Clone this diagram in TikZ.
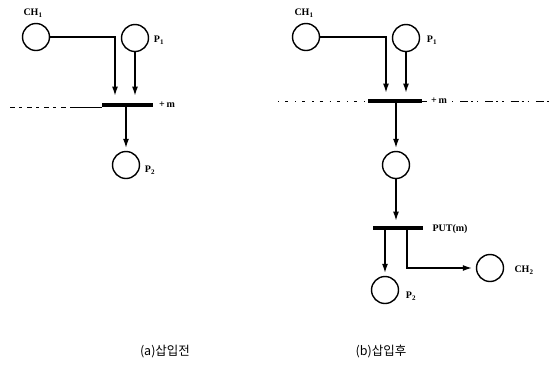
\documentclass[tikz,border=0pt]{standalone}
\usepackage{fontspec}
\setmainfont{Liberation Serif}
\newfontfamily\kr{Noto Sans CJK KR}
\usetikzlibrary{arrows.meta,calc}
\tikzset{
  place/.style={circle,draw,line width=1.4pt,minimum size=27pt,inner sep=0pt},
  trans/.style={rectangle,fill=black,minimum width=#1,minimum height=4.5pt,inner sep=0pt},
  arc/.style={line width=1.2pt,-{Latex[length=9pt,width=6pt]}},
  lbl/.style={font=\bfseries\fontsize{10}{11}\selectfont,inner sep=0pt},
  captxt/.style={font=\kr\fontsize{12.5}{14}\selectfont,inner sep=0pt},
  axis/.style={line width=0.9pt}
}
\begin{document}
\begin{tikzpicture}[x=1pt,y=-1pt]
\useasboundingbox (0,0) rectangle (549,376);
% ---------- (a) ----------
\node[place] (ch1a) at (36,37) {};
\node[place] (p1a) at (135,38) {};
\node[trans=51pt] (bara) at (127.5,105) {};
\node[place] (p2a) at (126,165) {};
\node[lbl] at (33,13) {CH$_{\mathbf 1}$};
\node[lbl] at (159,40) {P$_{\mathbf 1}$};
\node[lbl] at (167,105) {+\,m};
\node[lbl] at (150,170) {P$_{\mathbf 2}$};
\coordinate (la) at (10,107);
\coordinate (la2) at (70,107);
\draw[axis,dash pattern=on 5pt off 4pt on 3pt off 5pt] (la) -- (la2);
\draw[axis] (la2) -- (la2 -| bara.west);
\draw[arc,shorten >=7pt] (ch1a.east) -| ($(bara.north)+(-12.5,0)$);
\draw[arc,shorten >=7pt] (p1a.south) -- (p1a.south |- bara.north);
\draw[arc,shorten >=3pt] (bara.south -| p2a) -- (p2a.north);
% ---------- (b) ----------
\node[place] (ch1b) at (306,37) {};
\node[place] (p1b) at (406,38) {};
\node[trans=54pt] (barb) at (395,101) {};
\node[place] (midb) at (396,165) {};
\node[trans=50pt] (putb) at (398,228) {};
\node[place] (p2b) at (385,290) {};
\node[place] (ch2b) at (490,268) {};
\node[lbl] at (304,13) {CH$_{\mathbf 1}$};
\node[lbl] at (432,40) {P$_{\mathbf 1}$};
\node[lbl] at (439,101) {+\,m};
\node[lbl] at (450,229) {PUT(m)};
\node[lbl] at (411,296) {P$_{\mathbf 2}$};
\node[lbl] at (524,270) {CH$_{\mathbf 2}$};
\coordinate (lb) at (278,101);
\coordinate (lb2) at (452,101);
\coordinate (lb3) at (549,101);
\draw[axis,dash pattern=on 1.2pt off 6pt on 3pt off 7pt] (lb) -- (lb -| barb.west);
\draw[axis] (barb.east) -- ($(barb.east)+(5,0)$);
\draw[axis,dash pattern=on 1.2pt off 7pt on 8pt off 3pt on 2pt off 4pt] (lb2) -- (lb3);
\draw[arc,shorten >=6pt] (ch1b.east) -| ($(barb.north)+(-9,0)$);
\draw[arc,shorten >=6pt] (p1b.south) -- (p1b.south |- barb.north);
\draw[arc,shorten >=3pt] (barb.south -| midb) -- (midb.north);
\draw[arc,shorten >=5pt] (midb.south) -- (midb.south |- putb.north);
\draw[arc,shorten >=3pt] (putb.south -| p2b) -- (p2b.north);
\draw[arc,shorten >=4pt] ($(putb.south)+(9,0)$) |- (ch2b.west);
% ---------- captions ----------
\node[captxt] (capa) at (165,352) {(a)삽입전};
\node[captxt] (capb) at (381,352) {(b)삽입후};
\end{tikzpicture}
\end{document}
